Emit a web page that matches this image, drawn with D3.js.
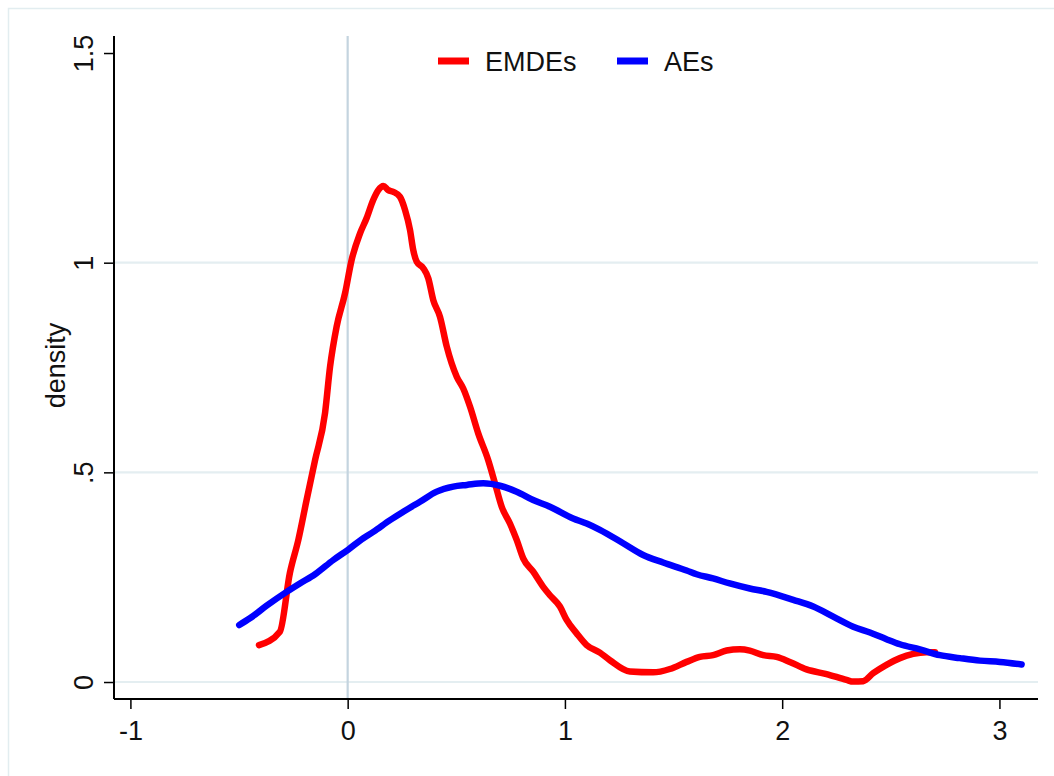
<!DOCTYPE html>
<html>
<head>
<meta charset="utf-8">
<script src="https://cdn.jsdelivr.net/npm/d3@7"></script>
<style>
  html, body { margin: 0; padding: 0; background: #fff; }
  svg { display: block; font-family: Arial, "Liberation Sans", sans-serif; }
</style>
</head>
<body>
<svg id="chart" width="1054" height="776"></svg>
<script>
// Kernel density estimates of the two country groups
const emdesX = [-0.408, -0.312, -0.266, -0.227, -0.189, -0.150, -0.104, -0.081, -0.051, -0.012, 0.018, 0.057, 0.087, 0.118, 0.141, 0.164, 0.187, 0.210, 0.241, 0.264, 0.287, 0.302, 0.318, 0.348, 0.371, 0.394, 0.425, 0.456, 0.502, 0.532, 0.563, 0.601, 0.647, 0.678, 0.709, 0.747, 0.778, 0.808, 0.854, 0.900, 0.931, 0.977, 1.008, 1.054, 1.100, 1.161, 1.207, 1.299, 1.406, 1.483, 1.560, 1.621, 1.682, 1.744, 1.805, 1.851, 1.913, 1.974, 2.035, 2.112, 2.204, 2.296, 2.327, 2.373, 2.419, 2.480, 2.542, 2.603, 2.664, 2.703];
const emdesY = [0.088, 0.120, 0.260, 0.339, 0.434, 0.529, 0.642, 0.752, 0.847, 0.927, 1.006, 1.070, 1.106, 1.150, 1.173, 1.183, 1.173, 1.169, 1.157, 1.126, 1.078, 1.030, 1.002, 0.987, 0.963, 0.911, 0.871, 0.800, 0.728, 0.700, 0.657, 0.593, 0.529, 0.474, 0.418, 0.378, 0.339, 0.295, 0.263, 0.227, 0.207, 0.180, 0.148, 0.116, 0.088, 0.070, 0.052, 0.025, 0.023, 0.031, 0.048, 0.060, 0.064, 0.075, 0.078, 0.075, 0.064, 0.060, 0.048, 0.030, 0.019, 0.005, 0.001, 0.002, 0.021, 0.041, 0.057, 0.067, 0.071, 0.071];

const aesX = [-0.499, -0.450, -0.373, -0.281, -0.220, -0.150, -0.066, 0.003, 0.072, 0.118, 0.195, 0.256, 0.333, 0.410, 0.486, 0.548, 0.624, 0.701, 0.778, 0.854, 0.931, 1.038, 1.100, 1.161, 1.268, 1.360, 1.452, 1.560, 1.606, 1.682, 1.759, 1.851, 1.928, 2.051, 2.143, 2.235, 2.327, 2.404, 2.480, 2.542, 2.634, 2.726, 2.818, 2.910, 3.002, 3.102];
const aesY = [0.136, 0.152, 0.182, 0.215, 0.235, 0.257, 0.291, 0.316, 0.343, 0.358, 0.386, 0.406, 0.430, 0.454, 0.466, 0.470, 0.474, 0.468, 0.454, 0.434, 0.418, 0.390, 0.378, 0.363, 0.331, 0.303, 0.285, 0.266, 0.257, 0.247, 0.235, 0.223, 0.215, 0.196, 0.180, 0.156, 0.132, 0.118, 0.102, 0.090, 0.078, 0.064, 0.057, 0.051, 0.048, 0.042];

const xTicks = [-1, 0, 1, 2, 3];
const yTicks = [0, 0.5, 1, 1.5];
const yTickLabels = ["0", ".5", "1", "1.5"];
const gridValues = [0, 0.5, 1];
const seriesNames = ["EMDEs", "AEs"];
const seriesColors = ["#ff0000", "#0000ff"];

const FONT = 27;
const svg = d3.select("#chart");

// Outer frame
svg.append("rect")
  .attr("x", 8.5).attr("y", 8.5)
  .attr("width", 1060).attr("height", 800)
  .attr("fill", "#fff").attr("stroke", "#e2edf0").attr("stroke-width", 1.5);

const plot = { left: 114, right: 1038, top: 36, bottom: 699 };

const x = d3.scaleLinear()
  .domain([-1.0755, 3.1775])
  .range([plot.left, plot.right]);
const y = d3.scaleLinear()
  .domain([-0.0405, 1.5406])
  .range([plot.bottom, plot.top]);

// Horizontal grid
svg.append("g").selectAll("line")
  .data(gridValues).join("line")
  .attr("x1", plot.left).attr("x2", plot.right)
  .attr("y1", d => y(d)).attr("y2", d => y(d))
  .attr("stroke", "#e4eef1").attr("stroke-width", 2.2);

// Reference line at zero
svg.append("line")
  .attr("x1", x(0)).attr("x2", x(0))
  .attr("y1", plot.top).attr("y2", plot.bottom)
  .attr("stroke", "#c4d4df").attr("stroke-width", 2.2);

// Axes
const xAxis = d3.axisBottom(x).tickValues(xTicks).tickSize(10).tickPadding(12)
  .tickFormat(d3.format("d"));
const gx = svg.append("g")
  .attr("transform", `translate(0,${plot.bottom})`)
  .call(xAxis);
gx.select(".domain").attr("stroke", "#000").attr("stroke-width", 2)
  .attr("d", `M${plot.left},0H${plot.right}`);
gx.selectAll(".tick line").attr("stroke", "#000").attr("stroke-width", 1.5);
gx.selectAll(".tick text")
  .attr("font-size", FONT).attr("fill", "#111")
  .attr("font-family", "Arial, 'Liberation Sans', sans-serif")
  .text(d => d < 0 ? "-" + Math.abs(d) : String(d));

const yAxis = d3.axisLeft(y).tickValues(yTicks).tickSize(10)
  .tickFormat((d, i) => yTickLabels[i]);
const gy = svg.append("g")
  .attr("transform", `translate(${plot.left},0)`)
  .call(yAxis);
gy.select(".domain").attr("stroke", "#000").attr("stroke-width", 2)
  .attr("d", `M0,${plot.top}V${plot.bottom}`);
gy.selectAll(".tick line").attr("stroke", "#000").attr("stroke-width", 1.5);
gy.selectAll(".tick text")
  .attr("font-size", FONT).attr("fill", "#111")
  .attr("font-family", "Arial, 'Liberation Sans', sans-serif")
  .attr("x", 0).attr("dy", null)
  .attr("text-anchor", "middle")
  .attr("transform", "translate(-21,0) rotate(-90)");

// Axis title
svg.append("text")
  .attr("transform", `translate(65,${y(0.755)}) rotate(-90)`)
  .attr("text-anchor", "middle")
  .attr("font-size", FONT).attr("fill", "#111")
  .text("density");

// Density curves
const line = d3.line()
  .x(d => x(d[0])).y(d => y(d[1]))
  .curve(d3.curveMonotoneX);

const series = [
  d3.zip(emdesX, emdesY),
  d3.zip(aesX, aesY)
];

svg.append("g").selectAll("path")
  .data(series).join("path")
  .attr("d", line)
  .attr("fill", "none")
  .attr("stroke", (d, i) => seriesColors[i])
  .attr("stroke-width", 6.5)
  .attr("stroke-linejoin", "round")
  .attr("stroke-linecap", "round");

// Legend
const legendPos = [438, 617];
const lg = svg.append("g").selectAll("g")
  .data(seriesNames).join("g")
  .attr("transform", (d, i) => `translate(${legendPos[i]},61)`);
lg.append("line")
  .attr("x1", 0).attr("x2", 31)
  .attr("stroke", (d, i) => seriesColors[i]).attr("stroke-width", 7);
lg.append("text")
  .attr("x", 47).attr("y", 10)
  .attr("font-size", FONT).attr("fill", "#111")
  .text(d => d);
</script>
</body>
</html>
